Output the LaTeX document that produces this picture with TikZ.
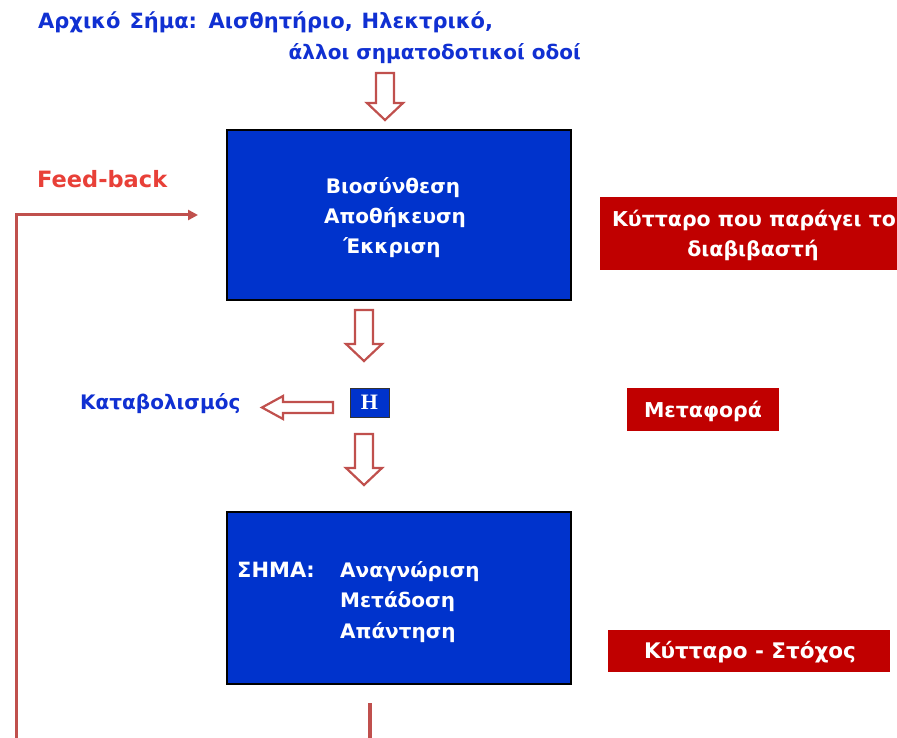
\documentclass[tikz,border=0pt]{standalone}
\usepackage{fontspec}
\setmainfont{DejaVu Sans}
\newfontfamily\hfont{Liberation Serif}
\usetikzlibrary{arrows.meta}
\definecolor{sigblue}{RGB}{0,51,204}
\definecolor{txtblue}{RGB}{16,48,210}
\definecolor{cellred}{RGB}{192,0,0}
\definecolor{arrowred}{RGB}{192,80,77}
\definecolor{fbred}{RGB}{232,64,56}
\tikzset{
  bluebox/.style={draw=black, line width=1.2pt, fill=sigblue},
  whitetxt/.style={text=white, font=\bfseries\fontsize{20}{24}\selectfont, inner sep=0pt},
  bluetxt/.style={text=txtblue, font=\bfseries\fontsize{20}{24}\selectfont, inner sep=0pt},
  redbox/.style={fill=cellred, inner sep=0pt},
  redtxt/.style={text=white, font=\bfseries\fontsize{20.5}{24}\selectfont, inner sep=0pt},
  hollow/.style={draw=arrowred, line width=2.2pt, fill=white, line join=miter},
  fbline/.style={draw=arrowred, line width=3pt},
}
% vertical hollow arrow: centre x, top y, tip y
\newcommand\hollowdown[3]{%
  \path[hollow] (#1-9,#2) -- (#1+9,#2) -- (#1+9,#3-17) -- (#1+18,#3-17)
    -- (#1,#3) -- (#1-18,#3-17) -- (#1-9,#3-17) -- cycle;}
\begin{document}
\begin{tikzpicture}[x=1pt,y=-1pt]
\useasboundingbox (0,0) rectangle (897,738);

% heading
\node[bluetxt, anchor=base west, font=\bfseries\fontsize{21}{24}\selectfont] (title1) at (38,29)
  {\spaceskip=9pt Αρχικό Σήμα: Αισθητήριο, Ηλεκτρικό,};
\node[bluetxt, anchor=base east] (title2) at (581,60) {άλλοι σηματοδοτικοί οδοί};

% producing cell
\node[bluebox, minimum width=344pt, minimum height=170pt, inner sep=0pt] (prod) at (399,215) {};
\node[whitetxt, anchor=base] (prod1) at (393,194) {Βιοσύνθεση};
\node[whitetxt, anchor=base] (prod2) at (395,224) {Αποθήκευση};
\node[whitetxt, anchor=base] (prod3) at (392,254) {Έκκριση};

% target cell
\node[bluebox, minimum width=344pt, minimum height=172pt, inner sep=0pt] (target) at (399,598) {};
\node[whitetxt, anchor=base west, font=\bfseries\fontsize{21}{24}\selectfont] (sema) at (237,577) {ΣΗΜΑ:};
\node[whitetxt, anchor=base west] (target1) at (340,577) {Αναγνώριση};
\node[whitetxt, anchor=base west] (target2) at (340,607) {Μετάδοση};
\node[whitetxt, anchor=base west] (target3) at (340,638) {Απάντηση};

% hormone
\node[draw=black!80, line width=1pt, fill=sigblue, minimum width=39pt, minimum height=29pt,
      inner sep=0pt, text=white, font=\hfont\bfseries\fontsize{22}{22}\selectfont] (H) at (369.5,402.5) {H};

\node[bluetxt, anchor=base west] (catab) at (80,409) {Καταβολισμός};

% side labels
\node[redbox, minimum width=297pt, minimum height=73pt] (lab1) at (748.5,233.5) {};
\node[redtxt, anchor=base] (lab1a) at (754,226) {Κύτταρο που παράγει το};
\node[redtxt, anchor=base] (lab1b) at (753,256) {διαβιβαστή};
\node[redbox, minimum width=152pt, minimum height=43pt] (lab2) at (703,409.5) {};
\node[redtxt, anchor=base] (lab2t) at (703,417) {Μεταφορά};
\node[redbox, minimum width=282pt, minimum height=42pt] (lab3) at (749,651) {};
\node[redtxt, anchor=base, font=\bfseries\fontsize{21.5}{24}\selectfont] (lab3t) at (750,658) {Κύτταρο - Στόχος};

% hollow arrows
\hollowdown{385}{73}{120}
\hollowdown{364}{310}{361}
\hollowdown{364}{434}{485}
\path[hollow] (333,402) -- (333,413) -- (283,413) -- (283,419) -- (262,407.5)
  -- (283,396) -- (283,402) -- cycle;

% feedback
\node[text=fbred, font=\bfseries\fontsize{22.5}{24}\selectfont, inner sep=0pt, anchor=base west] (fb) at (37,188) {Feed-back};
\coordinate (fbstart) at (16,738);
\coordinate (fbend) at (198,215);
\draw[fbline, -{Triangle[length=10pt,width=10pt]}] (fbstart) |- (fbend);
\coordinate (outtop) at (370,703);
\coordinate (outbot) at (370,738);
\draw[fbline, line width=3.5pt] (outtop) -- (outbot);
\end{tikzpicture}
\end{document}
